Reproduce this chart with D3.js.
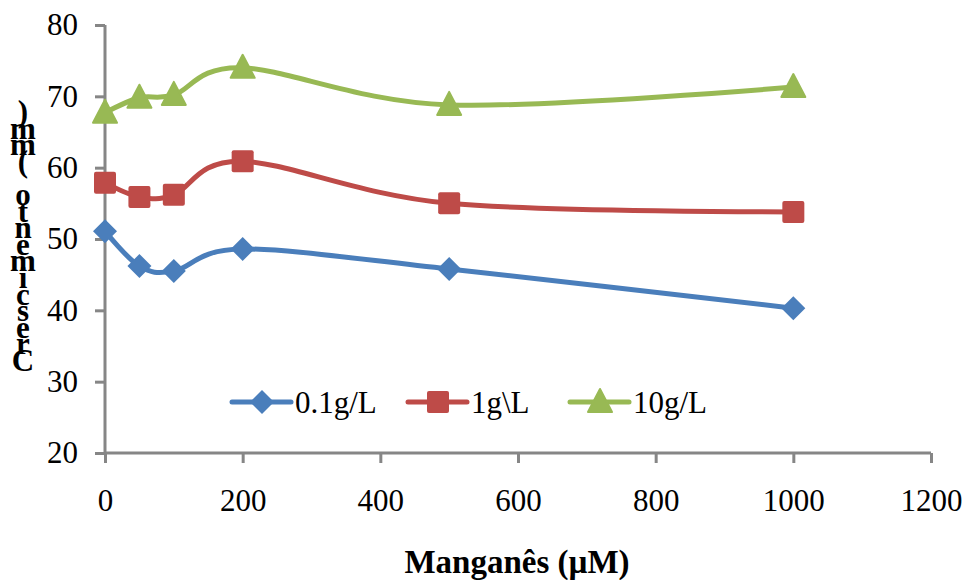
<!DOCTYPE html>
<html>
<head>
<meta charset="utf-8">
<script src="https://cdn.jsdelivr.net/npm/d3@7"></script>
<style>
  body { margin: 0; background: #fff; }
  text { font-family: "Liberation Serif", "Times New Roman", serif; }
</style>
</head>
<body>
<div id="chart"></div>
<script>
// data
const doses = [0, 50, 100, 200, 500, 1000];
const seriesNames = ['0.1g/L', '1g\\L', '10g/L'];
const low = [51.1, 46.2, 45.5, 48.6, 45.8, 40.3];
const mid = [57.9, 55.9, 56.2, 60.9, 55.0, 53.8];
const high = [67.7, 69.8, 70.2, 74.0, 68.8, 71.3];
const xTicks = [0, 200, 400, 600, 800, 1000, 1200];
const yTicks = [20, 30, 40, 50, 60, 70, 80];
const yLabel = 'Crescimento (mm)';
const xLabel = 'Manganês (µM)';

const width = 971;
const height = 580;

const svg = d3.select('#chart')
  .append('svg')
    .attr('width', width)
    .attr('height', height);

const x = d3.scaleLinear().domain([0, 1200]).range([105, 931]);
const y = d3.scaleLinear().domain([20, 80]).range([453, 25]);

const axisColor = '#868686';

// y axis
const yAxis = svg.append('g')
  .attr('transform', `translate(${x(0)},0)`)
  .call(d3.axisLeft(y).tickValues(yTicks).tickFormat(d3.format('d')).tickSize(10).tickPadding(17));
// x axis
const xAxis = svg.append('g')
  .attr('transform', `translate(0,${y(20)})`)
  .call(d3.axisBottom(x).tickValues(xTicks).tickFormat(d3.format('d')).tickSize(10).tickPadding(26));

[yAxis, xAxis].forEach(g => {
  g.select('.domain').attr('stroke', axisColor).attr('stroke-width', 3);
  g.selectAll('.tick line').attr('stroke', axisColor).attr('stroke-width', 3);
  g.selectAll('.tick text')
    .attr('fill', '#000')
    .style('font-size', '31px')
    .style('font-family', '"Liberation Serif", serif');
});
// keep only the axis line, without outer ticks
yAxis.select('.domain').attr('d', `M0,${y(80)}V${y(20)}`);
xAxis.select('.domain').attr('d', `M${x(0)},0H${x(1200)}`);

const series = [
  { name: seriesNames[0], values: low, color: '#4a7ebb', shape: 'diamond' },
  { name: seriesNames[1], values: mid, color: '#be4b48', shape: 'square' },
  { name: seriesNames[2], values: high, color: '#98b954', shape: 'triangle' }
];

const line = d3.line()
  .x(d => x(d[0]))
  .y(d => y(d[1]))
  .curve(d3.curveCardinal.tension(0));

function marker(g, shape, color) {
  if (shape === 'diamond') {
    g.append('path').attr('d', 'M0,-12L12,0L0,12L-12,0Z').attr('fill', color);
  } else if (shape === 'square') {
    g.append('rect').attr('x', -11).attr('y', -11).attr('width', 22).attr('height', 22)
      .attr('rx', 2).attr('fill', color);
  } else {
    g.append('path').attr('d', 'M0,-13L12,10L-12,10Z').attr('fill', color)
      .attr('stroke', color).attr('stroke-width', 2).attr('stroke-linejoin', 'round');
  }
}

series.forEach(s => {
  const pts = doses.map((d, i) => [d, s.values[i]]);
  svg.append('path')
    .attr('d', line(pts))
    .attr('fill', 'none')
    .attr('stroke', s.color)
    .attr('stroke-width', 5)
    .attr('stroke-linejoin', 'round');
  pts.forEach(p => {
    const g = svg.append('g').attr('transform', `translate(${x(p[0])},${y(p[1])})`);
    marker(g, s.shape, s.color);
  });
});

// legend
const legendX = [232, 408, 570];
const legendY = 402;
series.forEach((s, i) => {
  const lg = svg.append('g').attr('transform', `translate(${legendX[i]},${legendY})`);
  lg.append('line').attr('x1', 0).attr('x2', 59).attr('y1', 0).attr('y2', 0)
    .attr('stroke', s.color).attr('stroke-width', 5).attr('stroke-linecap', 'round');
  marker(lg.append('g').attr('transform', 'translate(30,0)'), s.shape, s.color);
  lg.append('text')
    .attr('x', 63).attr('y', 11)
    .style('font-size', '31px')
    .text(s.name);
});

// x axis title
svg.append('text')
  .attr('x', 517).attr('y', 573)
  .attr('text-anchor', 'middle')
  .style('font-size', '33px')
  .style('font-weight', 'bold')
  .text(xLabel);

// y axis title: stacked characters, bottom to top
const chars = yLabel.split('');
const step = 16.6;
svg.append('g').selectAll('text')
  .data(chars)
  .join('text')
    .attr('x', 23)
    .attr('y', (d, i) => 371 - i * step)
    .attr('text-anchor', 'middle')
    .style('font-size', '31px')
    .style('font-weight', 'bold')
    .text(d => d);
</script>
</body>
</html>
